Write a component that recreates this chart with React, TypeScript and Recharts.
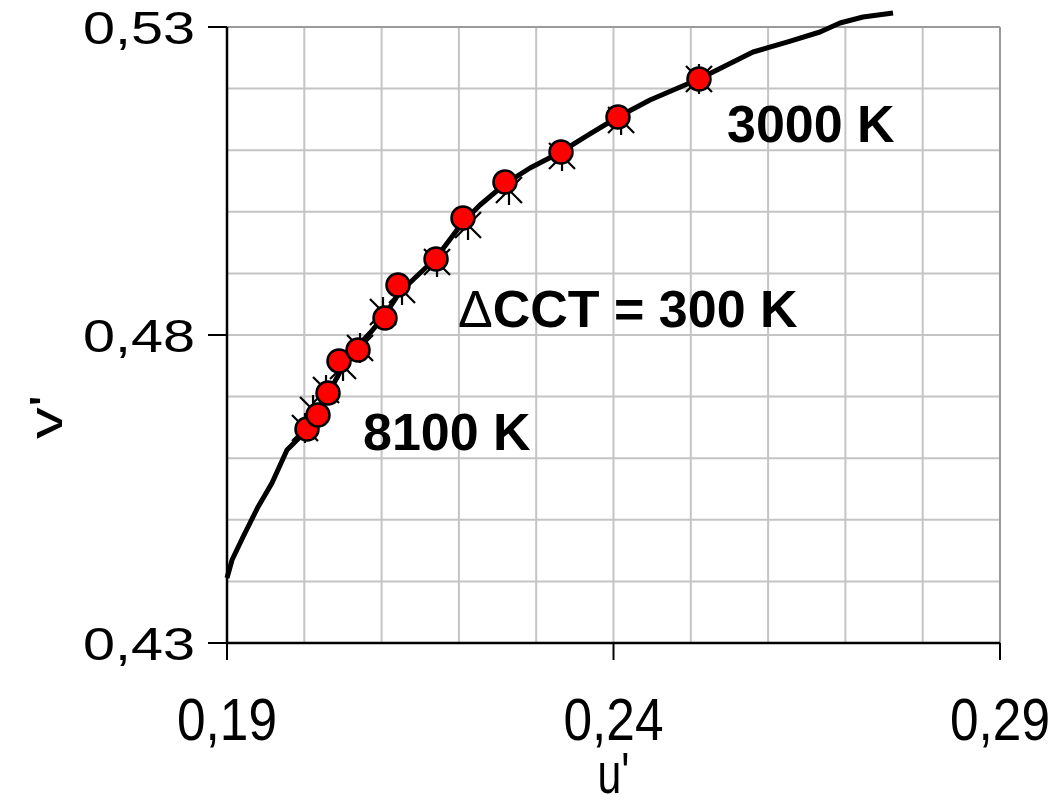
import React from 'react';
import {
  ScatterChart,
  Scatter,
  XAxis,
  YAxis,
  CartesianGrid,
  ReferenceDot,
  ReferenceLine,
} from 'recharts';

// Planckian locus (u', v')
const locusU = [
  0.19, 0.19065, 0.19207, 0.19401, 0.19582, 0.19776, 0.19944, 0.20035, 0.20177,
  0.20307, 0.20462, 0.20617, 0.2085, 0.21044, 0.21238, 0.21471, 0.21704, 0.22053,
  0.22273, 0.22596, 0.2292, 0.23321, 0.23696, 0.24058, 0.24472, 0.25106, 0.25805,
  0.26245, 0.26671, 0.2693, 0.27228, 0.27616,
];
const locusV = [
  0.44055, 0.44347, 0.44721, 0.45208, 0.45597, 0.46133, 0.46344, 0.4649, 0.4675,
  0.47042, 0.47399, 0.47724, 0.48032, 0.48325, 0.48698, 0.48974, 0.4925, 0.49834,
  0.5011, 0.50451, 0.50711, 0.50971, 0.51263, 0.51539, 0.51815, 0.52156, 0.52594,
  0.52756, 0.52919, 0.53065, 0.53162, 0.53227,
];

// Red circle points (8100 K ... 3000 K, ΔCCT = 300 K)
const pointU = [
  0.20035, 0.20177, 0.20307, 0.20449, 0.20695, 0.21044, 0.21212, 0.21704, 0.22053,
  0.22596, 0.23321, 0.24058, 0.25106,
];
const pointV = [
  0.46474, 0.46701, 0.47058, 0.47578, 0.47756, 0.48276, 0.48812, 0.49234, 0.49899,
  0.50484, 0.50971, 0.51539, 0.52156,
];

// Star markers
const starU = [
  0.20009, 0.20113, 0.20281, 0.20501, 0.20721, 0.21018, 0.21264, 0.21717, 0.22118,
  0.22648, 0.23334, 0.24098, 0.25106,
];
const starV = [
  0.4649, 0.46782, 0.47107, 0.47497, 0.47789, 0.48373, 0.48731, 0.49185, 0.49786,
  0.50354, 0.50906, 0.5149, 0.52156,
];

const xTicks = [0.19, 0.24, 0.29];
const yTicks = [0.43, 0.48, 0.53];
const xTickLabels = ['0,19', '0,24', '0,29'];
const yTickLabels = ['0,43', '0,48', '0,53'];
const xGrid = [0.2, 0.21, 0.22, 0.23, 0.24, 0.25, 0.26, 0.27, 0.28, 0.29];
const yGrid = [0.44, 0.45, 0.46, 0.47, 0.48, 0.49, 0.5, 0.51, 0.52, 0.53];

const noteText = ['3000 K', 'CCT = 300 K', '8100 K'];
const notePrefix = ['', 'Δ', ''];
const noteU = [0.25468, 0.21988, 0.20759];
const noteV = [0.51133, 0.4813, 0.46133];

const locus = locusU.map((u, i) => ({ u, v: locusV[i] }));
const points = pointU.map((u, i) => ({ u, v: pointV[i] }));
const stars = starU.map((u, i) => ({ u, v: starV[i] }));

const FONT = '"Liberation Sans", Arial, sans-serif';

const fmt = (arr: number[], labels: string[], val: number) => {
  const i = arr.findIndex((a) => Math.abs(a - val) < 1e-9);
  return i >= 0 ? labels[i] : String(val);
};

const XTick = (props: any) => {
  const { x, y, payload } = props;
  return (
    <text
      x={x}
      y={y + 80}
      textAnchor="middle"
      fontFamily={FONT}
      fontSize={60}
      fill="#000"
      textLength={100}
      lengthAdjust="spacingAndGlyphs"
    >
      {fmt(xTicks, xTickLabels, payload.value)}
    </text>
  );
};

const YTick = (props: any) => {
  const { x, y, payload } = props;
  return (
    <text
      x={x}
      y={y + 17}
      textAnchor="end"
      fontFamily={FONT}
      fontSize={46}
      fill="#000"
      textLength={112}
      lengthAdjust="spacingAndGlyphs"
    >
      {fmt(yTicks, yTickLabels, payload.value)}
    </text>
  );
};

const XTitle = (props: any) => {
  const vb = props.viewBox;
  return (
    <text
      x={vb.x + vb.width / 2}
      y={vb.y + 150}
      textAnchor="middle"
      fontFamily={FONT}
      fontSize={58}
      fill="#000"
      textLength={32}
      lengthAdjust="spacingAndGlyphs"
    >
      u'
    </text>
  );
};

const YTitle = (props: any) => {
  const vb = props.viewBox;
  const cx = 62;
  const cy = vb.y + vb.height * 0.633;
  return (
    <text
      x={cx}
      y={cy}
      transform={`rotate(-90, ${cx}, ${cy})`}
      textAnchor="middle"
      fontFamily={FONT}
      fontSize={47}
      fill="#000"
      textLength={44}
      lengthAdjust="spacingAndGlyphs"
    >
      v'
    </text>
  );
};

const Circle = (p: any) => (
  <circle cx={p.cx} cy={p.cy} r={11.5} fill="#ff0000" stroke="#000" strokeWidth={2.5} />
);

const Star = (p: any) => {
  const s = 13;
  return (
    <g stroke="#000" strokeWidth={2.2} fill="none">
      <line x1={p.cx - s} y1={p.cy - s} x2={p.cx + s} y2={p.cy + s} />
      <line x1={p.cx - s} y1={p.cy + s} x2={p.cx + s} y2={p.cy - s} />
      <line x1={p.cx} y1={p.cy - 15} x2={p.cx} y2={p.cy + 15} />
    </g>
  );
};

const Empty = () => <g />;

export default function App() {
  return (
    <div style={{ position: 'absolute', left: 0, top: 0, width: 1052, height: 800, background: '#fff' }}>
      <style>{`.recharts-scatter, .recharts-scatter * { clip-path: none !important; }`}</style>
      <ScatterChart
        width={1052}
        height={800}
        margin={{ top: 27, right: 52, bottom: 57, left: 0 }}
      >
        <CartesianGrid
          stroke="#c4c4c4"
          strokeWidth={2}
          horizontalValues={yGrid}
          verticalValues={xGrid}
        />
        <ReferenceLine y={0.53} stroke="#9a9a9a" strokeWidth={2} />
        <ReferenceLine x={0.29} stroke="#9a9a9a" strokeWidth={2} />
        <XAxis
          type="number"
          dataKey="u"
          domain={[0.19, 0.29]}
          allowDataOverflow
          ticks={xTicks}
          height={100}
          tickSize={17}
          tickMargin={0}
          axisLine={{ stroke: '#000', strokeWidth: 2.5 }}
          tickLine={{ stroke: '#000', strokeWidth: 2 }}
          tick={<XTick />}
          label={<XTitle />}
        />
        <YAxis
          type="number"
          dataKey="v"
          domain={[0.43, 0.53]}
          allowDataOverflow
          ticks={yTicks}
          width={227}
          tickSize={19}
          tickMargin={13}
          axisLine={{ stroke: '#000', strokeWidth: 2.5 }}
          tickLine={{ stroke: '#000', strokeWidth: 2 }}
          tick={<YTick />}
          label={<YTitle />}
        />
        <Scatter
          data={locus}
          fill="#000"
          line={{ stroke: '#000', strokeWidth: 5, strokeLinejoin: 'round' }}
          lineType="joint"
          shape={<Empty />}
          isAnimationActive={false}
        />
        <Scatter data={stars} fill="#000" shape={<Star />} isAnimationActive={false} />
        <Scatter data={points} fill="#ff0000" shape={<Circle />} isAnimationActive={false} />
        {noteText.map((t, i) => (
          <ReferenceDot
            key={t}
            x={noteU[i]}
            y={noteV[i]}
            r={0}
            ifOverflow="visible"
            shape={(p: any) => (
              <text
                x={p.cx}
                y={p.cy}
                fontFamily={FONT}
                fontSize={52}
                fontWeight="bold"
                fill="#000"
              >
                {notePrefix[i] ? (
                  <tspan fontWeight="normal">{notePrefix[i]}</tspan>
                ) : null}
                {t}
              </text>
            )}
          />
        ))}
      </ScatterChart>
    </div>
  );
}
